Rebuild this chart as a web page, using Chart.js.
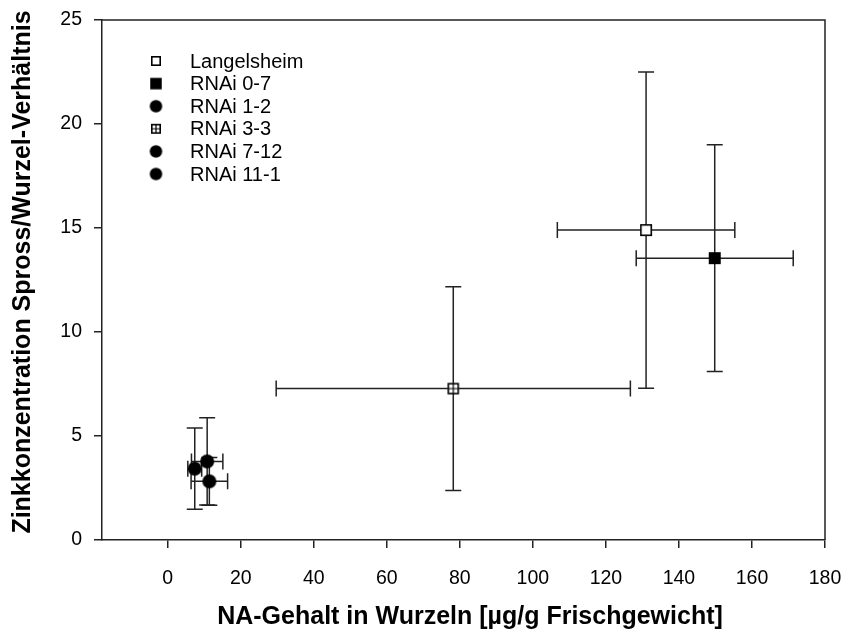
<!DOCTYPE html>
<html>
<head>
<meta charset="utf-8">
<script src="https://cdn.jsdelivr.net/npm/chart.js@4"></script>
<style>
html,body{margin:0;padding:0;background:#fff;}
#wrap{width:845px;height:633px;position:relative;}
</style>
</head>
<body>
<div id="wrap"><canvas id="c" width="845" height="633"></canvas></div>
<script>
// ---- data ----
const seriesNames = ["Langelsheim", "RNAi 0-7", "RNAi 1-2", "RNAi 3-3", "RNAi 7-12", "RNAi 11-1"];
const naValues    = [131.0, 149.8, 7.4, 78.2, 10.8, 11.4];   // x
const znRatio     = [14.9, 13.55, 3.43, 7.28, 3.78, 2.82];   // y
const naError     = [24.3, 21.5, 1.9, 48.5, 4.3, 5.0];       // x error (+/-)
const znError     = [7.6, 5.45, 1.95, 4.9, 2.1, 1.15];       // y error (+/-)
const xTicks = [0, 20, 40, 60, 80, 100, 120, 140, 160, 180];
const yTicks = [0, 5, 10, 15, 20, 25];
const xTitle = "NA-Gehalt in Wurzeln [µg/g Frischgewicht]";
const yTitle = "Zinkkonzentration Spross/Wurzel-Verhältnis";

const FONT = "'Liberation Sans', Arial, sans-serif";

function makeMarker(kind, side) {
  const pad = 2;
  const s = Math.ceil(side + pad * 2);
  const cv = document.createElement('canvas');
  cv.width = s; cv.height = s;
  const g = cv.getContext('2d');
  const o = (s - side) / 2;
  if (kind === 'open') {
    g.fillStyle = '#fff'; g.fillRect(o, o, side, side);
    g.strokeStyle = '#000'; g.lineWidth = 1.6; g.strokeRect(o + 0.8, o + 0.8, side - 1.6, side - 1.6);
  } else if (kind === 'filled') {
    g.fillStyle = '#000'; g.fillRect(o, o, side, side);
  } else if (kind === 'crossed') {
    g.fillStyle = '#fff'; g.fillRect(o, o, side, side);
    g.strokeStyle = '#000'; g.lineWidth = 1.6; g.strokeRect(o + 0.8, o + 0.8, side - 1.6, side - 1.6);
    g.lineWidth = 1.2;
    g.beginPath();
    g.moveTo(s / 2, o); g.lineTo(s / 2, o + side);
    g.moveTo(o, s / 2); g.lineTo(o + side, s / 2);
    g.stroke();
  } else if (kind === 'circle') {
    g.fillStyle = '#000'; g.beginPath(); g.arc(s / 2, s / 2, side / 2, 0, Math.PI * 2); g.fill();
  }
  return cv;
}
const kinds = ['open', 'filled', 'circle', 'crossed', 'circle', 'circle'];
const plotSizes = [12, 12, 14, 11.5, 14, 14];
const legendSizes = [10, 11.5, 12.5, 10, 12.5, 12.5];

const datasets = seriesNames.map((name, i) => ({
  label: name,
  data: [{x: naValues[i], y: znRatio[i]}],
  pointStyle: makeMarker(kinds[i], plotSizes[i]),
  legendStyle: makeMarker(kinds[i], legendSizes[i]),
  xErr: naError[i],
  yErr: znError[i],
  pointRadius: 7,
  pointHoverRadius: 7
}));

const errorBars = {
  id: 'errorBars',
  beforeDatasetsDraw(chart) {
    const ctx = chart.ctx, xs = chart.scales.x, ys = chart.scales.y;
    ctx.save();
    ctx.strokeStyle = '#222';
    ctx.lineWidth = 1.5;
    const cap = 8;
    chart.data.datasets.forEach(ds => {
      ds.data.forEach(p => {
        const cx = xs.getPixelForValue(p.x), cy = ys.getPixelForValue(p.y);
        const x1 = xs.getPixelForValue(p.x - ds.xErr), x2 = xs.getPixelForValue(p.x + ds.xErr);
        const y1 = ys.getPixelForValue(p.y - ds.yErr), y2 = ys.getPixelForValue(p.y + ds.yErr);
        ctx.beginPath();
        ctx.moveTo(x1, cy); ctx.lineTo(x2, cy);
        ctx.moveTo(x1, cy - cap); ctx.lineTo(x1, cy + cap);
        ctx.moveTo(x2, cy - cap); ctx.lineTo(x2, cy + cap);
        ctx.moveTo(cx, y1); ctx.lineTo(cx, y2);
        ctx.moveTo(cx - cap, y1); ctx.lineTo(cx + cap, y1);
        ctx.moveTo(cx - cap, y2); ctx.lineTo(cx + cap, y2);
        ctx.stroke();
      });
    });
    ctx.restore();
  }
};

const frameAndText = {
  id: 'frameAndText',
  afterDraw(chart) {
    const ctx = chart.ctx, a = chart.chartArea;
    ctx.save();
    ctx.strokeStyle = '#222';
    ctx.lineWidth = 1.5;
    ctx.beginPath();
    ctx.moveTo(a.left, a.top); ctx.lineTo(a.right, a.top);
    ctx.lineTo(a.right, a.bottom);
    ctx.stroke();
    // legend
    ctx.fillStyle = '#000';
    ctx.font = '20px ' + FONT;
    ctx.textBaseline = 'middle';
    ctx.textAlign = 'left';
    chart.data.datasets.forEach((ds, i) => {
      const ly = 61 + i * 22.6;
      const img = ds.legendStyle;
      ctx.drawImage(img, 156 - img.width / 2, ly - img.height / 2);
      ctx.fillText(ds.label, 190, ly + 1);
    });
    // axis titles
    ctx.font = 'bold 25px ' + FONT;
    ctx.textAlign = 'center';
    ctx.fillText(xTitle, 470, 617);
    ctx.translate(23, 272);
    ctx.rotate(-Math.PI / 2);
    ctx.fillText(yTitle, 0, 0);
    ctx.restore();
  }
};

new Chart(document.getElementById('c'), {
  type: 'scatter',
  data: { datasets },
  options: {
    responsive: false,
    animation: false,
    events: [],
    layout: { padding: { top: 20, right: 20, left: 0, bottom: 0 } },
    plugins: { legend: { display: false }, tooltip: { enabled: false } },
    scales: {
      x: {
        type: 'linear', min: -18, max: 180,
        afterFit(s) { s.height = 93; s.paddingLeft = 0; s.paddingRight = 0; },
        afterBuildTicks(s) { s.ticks = xTicks.map(v => ({value: v})); },
        grid: { display: true, drawOnChartArea: false, drawTicks: true, tickLength: 8, color: '#222', lineWidth: 1.5 },
        border: { display: true, color: '#222', width: 1.5 },
        ticks: { color: '#000', font: { family: FONT, size: 19.5 }, padding: 19, maxRotation: 0, autoSkip: false }
      },
      y: {
        type: 'linear', min: 0, max: 25,
        afterFit(s) { s.width = 102; s.paddingTop = 0; s.paddingBottom = 0; },
        afterBuildTicks(s) { s.ticks = yTicks.map(v => ({value: v})); },
        grid: { display: true, drawOnChartArea: false, drawTicks: true, tickLength: 8, color: '#222', lineWidth: 1.5 },
        border: { display: true, color: '#222', width: 1.5 },
        ticks: { color: '#000', font: { family: FONT, size: 19.5 }, padding: 12 }
      }
    }
  },
  plugins: [errorBars, frameAndText]
});
</script>
</body>
</html>
